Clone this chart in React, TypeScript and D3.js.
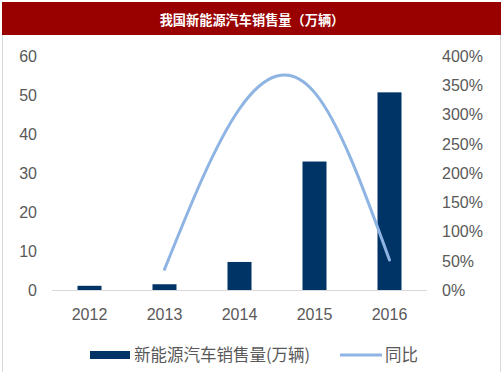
import React from "react";
import * as d3 from "d3";

const years = ["2012", "2013", "2014", "2015", "2016"];
const sales = [1.2, 1.6, 7.3, 33.0, 50.7];
const growthYears = ["2013", "2014", "2015", "2016"];
const growth = [36, 310, 338, 52];
const leftTicks = [0, 10, 20, 30, 40, 50, 60];
const rightTicks = [0, 50, 100, 150, 200, 250, 300, 350, 400];
const title = "我国新能源汽车销售量（万辆）";
const barLegend = "新能源汽车销售量(万辆)";
const lineLegend = "同比";

export default function App() {
  const W = 503, H = 378;
  const x = d3.scaleBand().domain(years).range([52, 427]).paddingInner(0.68).paddingOuter(0.34);
  const yL = d3.scaleLinear().domain([0, 60]).range([290.5, 56]);
  const yR = d3.scaleLinear().domain([0, 400]).range([290.5, 56]);
  const cx = (d: string) => (x(d) as number) + x.bandwidth() / 2;
  const line = d3.line<number>()
    .x((_, i) => cx(growthYears[i]))
    .y((d) => yR(d))
    .curve(d3.curveNatural);
  const font = "'Liberation Sans', Arial, sans-serif";
  const gray = "#595959";
  return (
    <svg width={W} height={H} style={{ position: "absolute", left: 0, top: 0 }} fontFamily={font}>
      <rect x={0} y={0} width={W} height={H} fill="#fff" />
      <rect x={2} y={2} width={499} height={33} fill="#990000" />
      <text x={252} y={24.5} textAnchor="middle" fill="#fff" fontSize={13.2} fontWeight="bold"
        fontFamily="'Noto Sans CJK SC', sans-serif">{title}</text>
      <line x1={2.5} x2={2.5} y1={35} y2={372} stroke="#d9d9d9" strokeWidth={1} />
      <line x1={500.5} x2={500.5} y1={35} y2={372} stroke="#d9d9d9" strokeWidth={1} />
      {leftTicks.map((t) => (
        <text key={"l" + t} x={37} y={yL(t)} dy="0.35em" textAnchor="end" fill={gray} fontSize={16}>{t}</text>
      ))}
      {rightTicks.map((t) => (
        <text key={"r" + t} x={442} y={yR(t)} dy="0.35em" textAnchor="start" fill={gray} fontSize={16}>{t}%</text>
      ))}
      {years.map((yr, i) => (
        <rect key={yr} x={x(yr)} y={yL(sales[i])} width={x.bandwidth()} height={yL(0) - yL(sales[i])} fill="#003366" />
      ))}
      <line x1={52} x2={427} y1={290.5} y2={290.5} stroke="#d9d9d9" strokeWidth={1} />
      {years.map((yr) => (
        <text key={"x" + yr} x={cx(yr)} y={314} dy="0.35em" textAnchor="middle" fill={gray} fontSize={16}>{yr}</text>
      ))}
      <path d={line(growth) || ""} fill="none" stroke="#8eb4e3" strokeWidth={3} strokeLinecap="round" />
      <rect x={90} y={351} width={40} height={8} fill="#003366" />
      <text x={134} y={355} dy="0.35em" fill={gray} fontSize={16.5} fontFamily="'Noto Sans CJK SC', sans-serif">{barLegend}</text>
      <line x1={340} x2={382} y1={355} y2={355} stroke="#8eb4e3" strokeWidth={3} />
      <text x={385} y={355} dy="0.35em" fill={gray} fontSize={16.5} fontFamily="'Noto Sans CJK SC', sans-serif">{lineLegend}</text>
    </svg>
  );
}
